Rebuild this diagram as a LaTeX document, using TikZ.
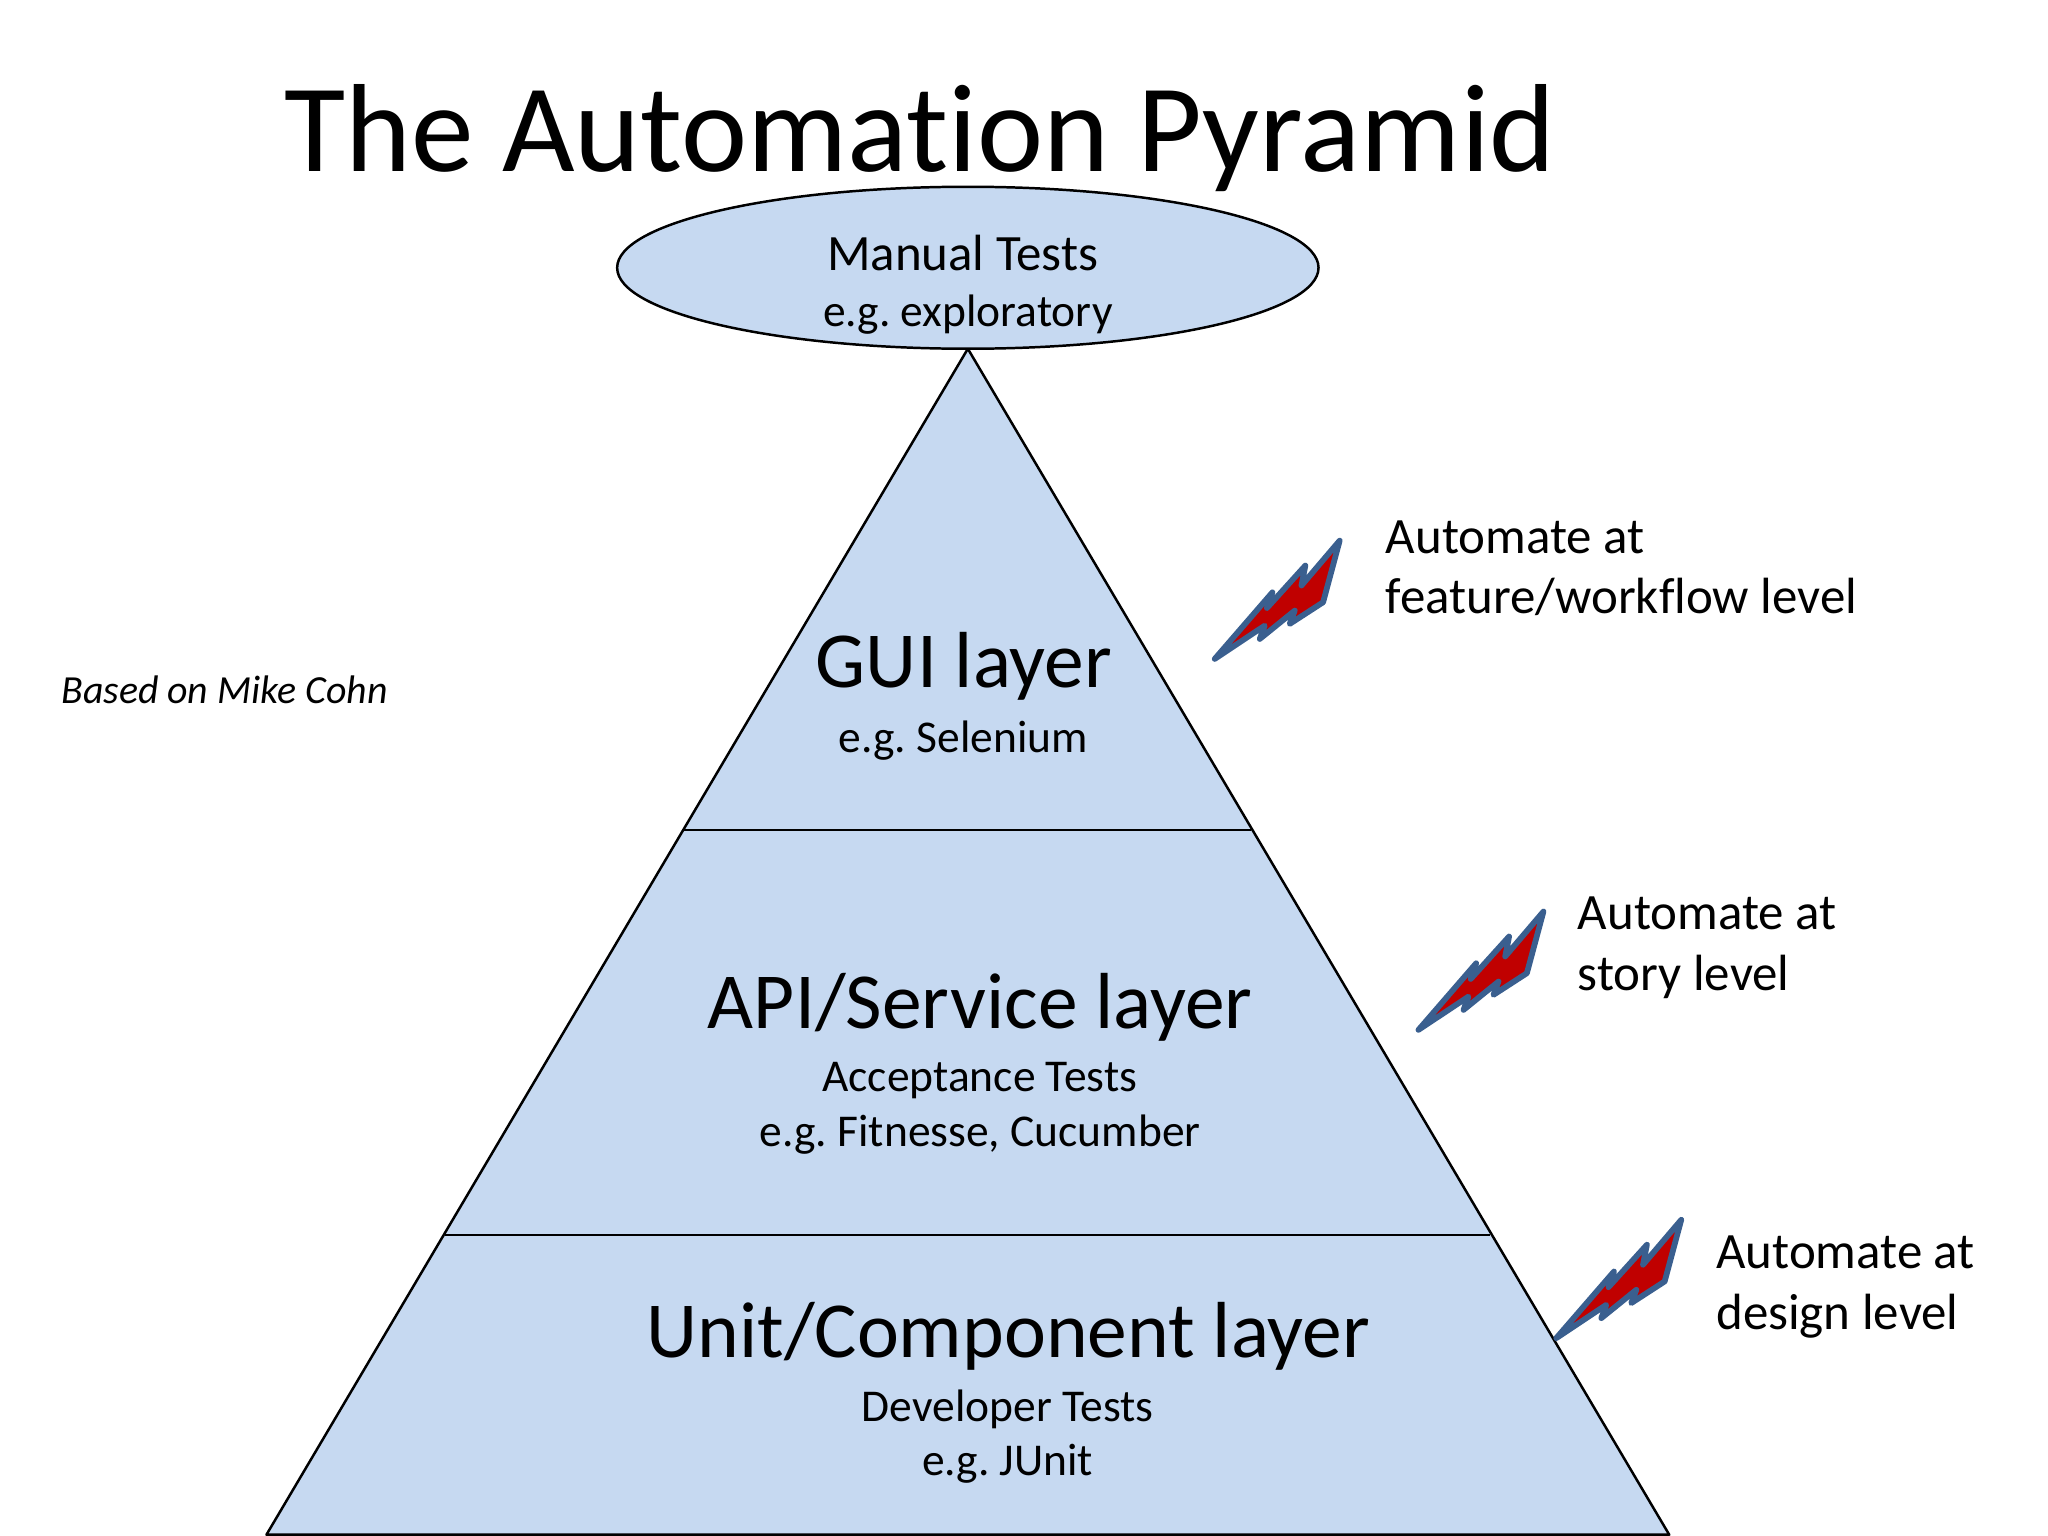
\documentclass[tikz,border=0pt]{standalone}
\usepackage{fontspec}
\setmainfont[Ligatures=NoCommon]{Carlito}
\usetikzlibrary{shapes.geometric}
\definecolor{pyr}{HTML}{C6D9F1}
\definecolor{boltline}{HTML}{3A5F8F}
\definecolor{boltfill}{HTML}{C00000}
\frenchspacing
\tikzset{
  x=0.5pt,y=-0.5pt,
  layerfill/.style={fill=pyr,draw=black,line width=0.95pt,line join=round},
  txt/.style={inner sep=0pt,outer sep=0pt,anchor=base,text=black},
  ltxt/.style={inner sep=0pt,outer sep=0pt,anchor=base west,text=black},
  titlefont/.style={font=\fontsize{47.98}{50}\selectfont},
  headfont/.style={font=\fontsize{30.42}{32}\selectfont},
  subfont/.style={font=\fontsize{17.42}{19}\selectfont},
  notefont/.style={font=\fontsize{19.5}{21}\selectfont},
  basedfont/.style={font=\fontsize{15.25}{17}\selectfont\itshape},
  pics/lightning/.style={code={
    \draw[draw=boltline,fill=boltfill,line width=2.2pt,line join=round]
      (0,0) -- (44.2,-51) -- (40,-39) -- (69.4,-71.5) -- (66.4,-56.2) -- (95.7,-90.6)
      -- (83,-43.4) -- (57.4,-26.8) -- (61.3,-37) -- (34.5,-15.3) -- (38.3,-25.5) -- cycle;
  }}
}
\begin{document}
\begin{tikzpicture}
\useasboundingbox (0,0) rectangle (1568,1176);
\fill[white] (0,0) rectangle (1568,1176);
% pyramid
\draw[layerfill] (741,267) -- (1278,1175) -- (204,1175) -- cycle;
\coordinate (g1) at (524,635.5); \coordinate (g2) at (958,635.5);
\coordinate (a1) at (341,945.5); \coordinate (a2) at (1141,945.5);
\draw[black,line width=0.95pt] (g1) -- (g2);
\draw[black,line width=0.95pt] (a1) -- (a2);
\node[ellipse,draw=black,fill=pyr,line width=0.95pt,minimum width=268.5pt,minimum height=62pt,inner sep=0pt] (manual) at (741,205) {};
% title
\node[txt,titlefont] (title) at (704.5,131.5) {The Automation Pyramid};
\node[txt,notefont] (m1) at (737,207) {Manual Tests};
\node[txt,subfont] (m2) at (741,250) {e.g. exploratory};
\node[txt,headfont] (gui) at (738,526.5) {GUI layer};
\node[txt,subfont] (gui2) at (737.5,576) {e.g. Selenium};
\node[txt,headfont] (api) at (750.5,787.5) {API/Service layer};
\node[txt,subfont] (api2) at (750,836) {Acceptance Tests};
\node[txt,subfont] (api3) at (750.5,878) {e.g. Fitnesse, Cucumber};
\node[txt,headfont] (unit) at (772,1039.5) {Unit/Component layer};
\node[txt,subfont] (unit2) at (771.5,1088) {Developer Tests};
\node[txt,subfont] (unit3) at (771.5,1130) {e.g. JUnit};
\node[ltxt,basedfont] (based) at (47,538.5) {Based on Mike Cohn};
% bolts
\pic at (930,504.5) {lightning};
\pic at (1086,788.5) {lightning};
\pic at (1191.5,1024.5) {lightning};
% notes
\node[ltxt,notefont] (f1) at (1061,424) {Automate at};
\node[ltxt,notefont] (f2) at (1061,470) {feature/workflow level};
\node[ltxt,notefont] (s1) at (1208,712) {Automate at};
\node[ltxt,notefont] (s2) at (1208,758) {story level};
\node[ltxt,notefont] (d1) at (1314,971) {Automate at};
\node[ltxt,notefont] (d2) at (1314,1018) {design level};
\end{tikzpicture}
\end{document}
